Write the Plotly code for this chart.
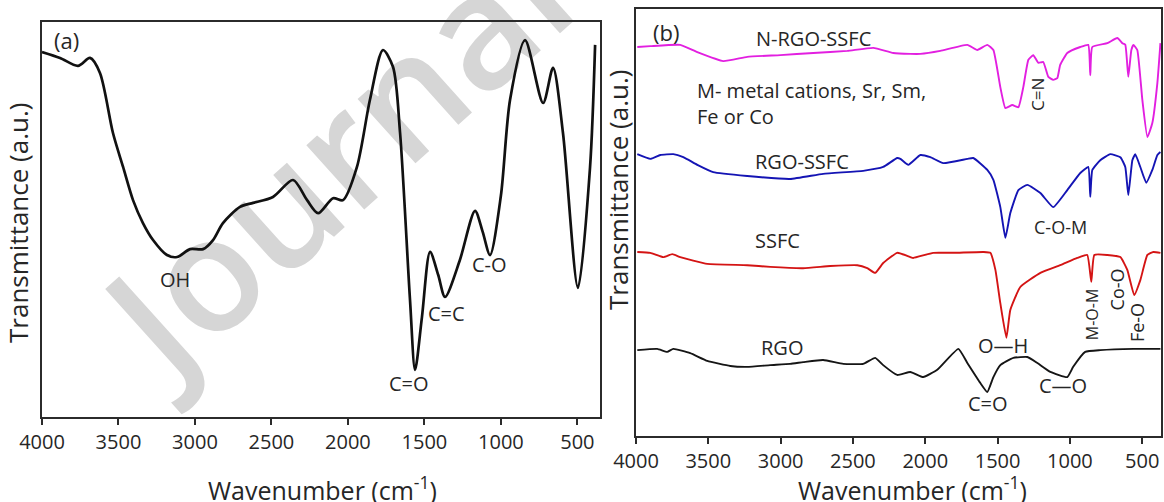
import math
import plotly.graph_objects as go

# ---------------- panel (a): graphene oxide spectrum ----------------
wn_a = [4000, 3882, 3765, 3686, 3621, 3536, 3470, 3405, 3340, 3274, 3183, 3117,
        3032, 2947, 2882, 2817, 2705, 2620, 2490, 2359, 2267, 2195, 2097, 2032,
        1941, 1856, 1771, 1705, 1659, 1594, 1561, 1516, 1463, 1410, 1365, 1270,
        1169, 1120, 1071, 1000, 940, 842, 724, 659, 594, 496, 417, 384]
t_a = [92.4, 90.9, 88.9, 90.9, 87.1, 71.9, 63.3, 54.9, 49.1, 44.8, 41.0, 40.5,
       42.5, 42.5, 44.8, 49.1, 53.2, 54.2, 55.7, 60.0, 54.9, 51.6, 55.4, 54.9,
       63.3, 80.3, 92.9, 88.6, 71.9, 29.6, 11.9, 25.3, 41.8, 36.0, 30.4, 39.5,
       52.2, 47.0, 41.0, 56.0, 80.3, 95.4, 79.5, 88.4, 71.9, 32.7, 63.3, 94.2]

# ---------------- panel (b): composite spectra ----------------
wn_nrgo = [3991, 3901, 3694, 3576, 3397, 3231, 3002, 2774, 2539, 2359, 2221, 2103,
           2034, 1896, 1709, 1640, 1571, 1529, 1481, 1446, 1398, 1356, 1322, 1287,
           1253, 1218, 1184, 1149, 1115, 1087, 1067, 1018, 928, 873, 859, 845, 741,
           672, 637, 617, 596, 575, 561, 534, 499, 464, 430, 395, 374]
t_nrgo = [91.1, 91.3, 91.6, 89.9, 87.8, 88.8, 89.2, 89.7, 90.2, 90.9, 89.7, 89.5,
          89.5, 90.2, 91.6, 90.4, 91.6, 90.4, 81.7, 76.8, 77.5, 77.0, 81.7, 88.1,
          89.2, 87.4, 87.6, 84.1, 83.4, 83.8, 86.9, 89.7, 91.1, 91.6, 84.5, 91.1,
          92.0, 93.2, 92.0, 91.6, 84.1, 90.4, 91.6, 90.4, 78.7, 70.0, 73.3, 82.7,
          92.0]

wn_rgossfc = [3991, 3901, 3832, 3742, 3673, 3576, 3466, 3231, 2934, 2706, 2429,
              2291, 2194, 2172, 2117, 2034, 1965, 1875, 1709, 1668, 1571, 1529,
              1481, 1446, 1412, 1356, 1294, 1204, 1115, 1018, 928, 873, 859, 845,
              790, 721, 651, 617, 596, 568, 548, 513, 472, 430, 395, 374]
t_rgossfc = [66.0, 64.9, 65.8, 66.0, 65.3, 63.5, 61.8, 60.9, 60.2, 61.4, 62.1,
             63.0, 65.1, 64.9, 63.5, 65.8, 65.3, 63.9, 64.9, 65.1, 62.3, 60.0,
             53.6, 46.4, 52.2, 57.6, 58.8, 56.9, 53.6, 57.6, 61.6, 63.0, 56.0,
             62.3, 64.6, 66.0, 65.3, 63.0, 56.4, 64.6, 66.0, 63.0, 59.3, 62.3,
             65.8, 66.5]

wn_ssfc = [3991, 3901, 3811, 3749, 3694, 3507, 3231, 3072, 2844, 2657, 2470, 2401,
           2346, 2291, 2194, 2103, 2083, 1945, 1806, 1598, 1550, 1515, 1481, 1439,
           1412, 1343, 1204, 1067, 949, 880, 852, 831, 741, 651, 603, 555, 513,
           464, 423, 374]
t_ssfc = [43.1, 42.9, 41.9, 42.6, 41.9, 40.3, 40.0, 39.6, 39.3, 39.8, 40.0, 39.3,
          38.2, 40.5, 42.9, 41.9, 41.7, 42.9, 42.9, 43.1, 42.9, 38.9, 31.1, 23.0,
          29.5, 34.9, 38.2, 40.0, 41.7, 42.4, 36.1, 42.4, 42.4, 41.9, 38.9, 33.0,
          36.5, 42.4, 43.1, 42.9]

wn_rgo = [3991, 3853, 3784, 3742, 3625, 3507, 3348, 3231, 3072, 2934, 2844, 2706,
          2567, 2429, 2346, 2291, 2194, 2103, 2014, 1917, 1771, 1709, 1619, 1571,
          1529, 1481, 1391, 1294, 1225, 1135, 1018, 977, 894, 790, 561, 374]
t_rgo = [20.1, 20.4, 19.7, 20.4, 19.4, 17.6, 16.4, 16.2, 16.6, 16.9, 17.3, 17.8,
         16.9, 16.9, 18.3, 16.6, 14.3, 15.0, 13.8, 15.5, 20.4, 17.1, 12.4, 10.3,
         13.8, 16.6, 18.3, 18.5, 17.1, 15.0, 13.8, 16.2, 19.7, 20.1, 20.4, 20.4]

ticks = [4000, 3500, 3000, 2500, 2000, 1500, 1000, 500]

FONT = "Open Sans"
TXT = "#262626"
FRAME = "#2b2b2b"
W, H = 1164, 502

fig = go.Figure()

fig.add_trace(go.Scatter(x=wn_a, y=t_a, mode="lines", xaxis="x", yaxis="y",
                         line=dict(color="#111111", width=2.7, shape="spline", smoothing=0.8),
                         showlegend=False))

series_b = [
    (wn_nrgo, t_nrgo, "#e21fe0"),
    (wn_rgossfc, t_rgossfc, "#1414b4"),
    (wn_ssfc, t_ssfc, "#d41414"),
    (wn_rgo, t_rgo, "#151515"),
]
for xs, ys, col in series_b:
    fig.add_trace(go.Scatter(x=xs, y=ys, mode="lines", xaxis="x2", yaxis="y2",
                             line=dict(color=col, width=1.9, shape="spline", smoothing=0.4),
                             showlegend=False))

axis_common = dict(showline=True, mirror=True, linecolor=FRAME, linewidth=1.6,
                   showgrid=False, zeroline=False, automargin=False)
xaxis_common = dict(axis_common, tickvals=ticks, ticks="outside", ticklen=6,
                    tickwidth=1.5, tickcolor=FRAME, ticklabelstandoff=0,
                    tickfont=dict(family=FONT, size=20, color=TXT))
yaxis_common = dict(axis_common, showticklabels=False, ticks="", range=[0, 100])

fig.update_layout(
    width=W, height=H,
    margin=dict(l=0, r=0, t=0, b=0, autoexpand=False),
    paper_bgcolor="white", plot_bgcolor="rgba(0,0,0,0)",
    xaxis=dict(xaxis_common, domain=[42 / W, 600 / W], range=[4000, 352], anchor="y"),
    yaxis=dict(yaxis_common, domain=[1 - 417 / H, 1 - 22 / H], anchor="x"),
    xaxis2=dict(xaxis_common, domain=[636 / W, 1161 / W], range=[4000, 370], anchor="y2"),
    yaxis2=dict(yaxis_common, domain=[1 - 436 / H, 1 - 9 / H], anchor="x2"),
)


def label(text, x, y, ax, size=20, angle=0, xanchor="center", align="center"):
    fig.add_annotation(text=text, x=x, y=y, xref="x" + ax, yref="y" + ax,
                       showarrow=False, textangle=angle, xanchor=xanchor,
                       yanchor="middle", align=align,
                       font=dict(family=FONT, size=size, color=TXT))


# peak assignments, panel (a)
label("OH", 3133, 34.9, "")
label("C=O", 1603, 8.6, "")
label("C=C", 1355, 26.3, "")
label("C-O", 1074, 38.5, "")

# sample names and peak assignments, panel (b)
label("N-RGO-SSFC", 2774, 93.0, "2")
label("M- metal cations, Sr, Sm,<br>Fe or Co", 3590, 77.9, "2", xanchor="left", align="left")
label("RGO-SSFC", 2850, 64.4, "2")
label("SSFC", 3023, 45.9, "2")
label("RGO", 2989, 20.8, "2")
label("C=N", 1219, 79.9, "2", size=17, angle=-90)
label("C-O-M", 1067, 48.9, "2", size=18)
label("O\u2014H", 1461, 21.3, "2")
label("C=O", 1565, 7.7, "2")
label("C\u2014O", 1046, 11.9, "2")
label("M-O-M", 845, 28.6, "2", size=16, angle=-90)
label("Co-O", 672, 34.4, "2", size=18, angle=-90)
label("Fe-O", 534, 26.5, "2", size=18, angle=-90)


def paper_text(text, px, py, size, angle=0):
    fig.add_annotation(text=text, x=px / W, y=1 - py / H, xref="paper", yref="paper",
                       showarrow=False, xanchor="center", yanchor="middle",
                       textangle=angle, font=dict(family=FONT, size=size, color=TXT))


# panel letters and axis titles
paper_text("(a)", 66, 40, 22)
paper_text("(b)", 666, 32, 22)
paper_text("Wavenumber (cm<sup>-1</sup>)", 322, 488, 25)
paper_text("Wavenumber (cm<sup>-1</sup>)", 912, 488, 25)
paper_text("Transmittance (a.u.)", 18, 223, 26, angle=-90)
paper_text("Transmittance (a.u.)", 618, 190, 26, angle=-90)

# light diagonal watermark behind the curves
cx, cy, ang = 343, 160, 42
dx, dy = 80 * math.cos(math.radians(ang)), 80 * math.sin(math.radians(ang))
fig.add_shape(type="line", xref="paper", yref="paper", layer="below",
              x0=(cx - dx) / W, y0=1 - (cy + dy) / H, x1=(cx + dx) / W, y1=1 - (cy - dy) / H,
              line=dict(width=0, color="rgba(0,0,0,0)"),
              label=dict(text="Journal", textposition="middle", textangle=-ang,
                         xanchor="center", yanchor="middle", padding=0,
                         font=dict(family=FONT, size=160, weight=600,
                                   color="rgb(214,214,214)")))

fig.write_html("out.html")
